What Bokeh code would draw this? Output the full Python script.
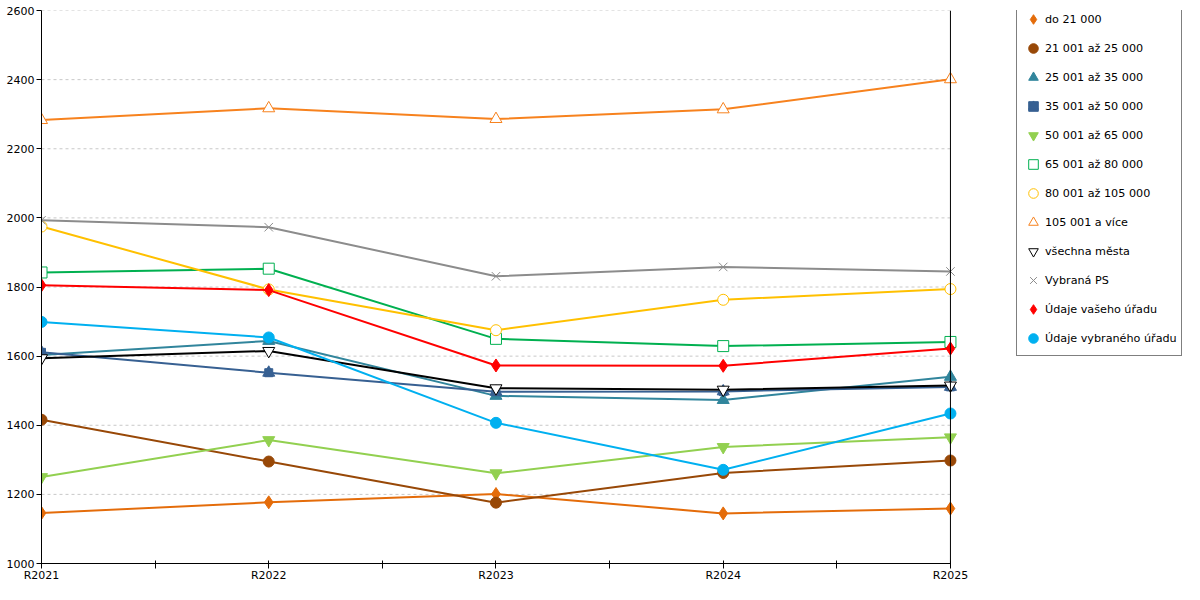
from bokeh.plotting import figure
from bokeh.models import Range1d, FixedTicker, Legend, LegendItem, Span
from bokeh.embed import file_html
from bokeh.resources import INLINE

years = ["R2021", "R2022", "R2023", "R2024", "R2025"]
y_ticks = [1000, 1200, 1400, 1600, 1800, 2000, 2200, 2400, 2600]

do_21000 = [1146, 1177, 1201, 1145, 1159]
od_21001 = [1416, 1295, 1176, 1262, 1298]
od_25001 = [1603, 1644, 1485, 1473, 1540]
od_35001 = [1611, 1552, 1497, 1498, 1511]
od_50001 = [1250, 1357, 1261, 1337, 1365]
od_65001 = [1842, 1853, 1650, 1629, 1641]
od_80001 = [1975, 1793, 1675, 1763, 1794]
od_105001 = [2283, 2317, 2286, 2314, 2401]
vsechna_mesta = [1594, 1615, 1507, 1503, 1515]
vybrana_ps = [1993, 1973, 1831, 1858, 1845]
vas_urad = [1805, 1791, 1573, 1572, 1622]
vybrany_urad = [1699, 1654, 1407, 1271, 1434]

xs = list(range(len(years)))

# frame runs on to the right edge so the legend can sit beside the last year
p = figure(
    width=1184, height=584,
    x_range=Range1d(0, 5.03), y_range=Range1d(y_ticks[0], y_ticks[-1]),
    output_backend="svg", toolbar_location=None,
    min_border_left=41, min_border_right=0, min_border_top=10, min_border_bottom=0,
)
p.outline_line_color = None
p.xgrid.visible = False
p.ygrid.visible = False

# dashed horizontal grid that stops at the right-hand axis line
p.segment(x0=xs[0], x1=xs[-1], y0=y_ticks[1:], y1=y_ticks[1:],
          line_color="#c8c8c8", line_width=1, line_dash="3 3")

for ax in (p.xaxis[0], p.yaxis[0]):
    ax.axis_line_color = "black"
    ax.major_tick_line_color = "black"
    ax.minor_tick_line_color = "black"
    ax.major_label_text_font = "DejaVu Sans"
    ax.major_label_text_font_size = "11px"
    ax.major_label_text_color = "black"

p.xaxis.ticker = FixedTicker(ticks=xs, minor_ticks=[x + 0.5 for x in xs[:-1]])
p.xaxis.major_label_overrides = {x: yr for x, yr in zip(xs, years)}
p.xaxis.bounds = (xs[0], xs[-1])
p.xaxis.major_tick_in = 3
p.xaxis.major_tick_out = 5
p.xaxis.minor_tick_in = 3
p.xaxis.minor_tick_out = 5
p.xaxis.major_label_standoff = 0

p.yaxis.ticker = FixedTicker(ticks=y_ticks)
p.yaxis.major_tick_in = 0
p.yaxis.major_tick_out = 5
p.yaxis.major_label_standoff = 2
p.yaxis.minor_tick_line_color = None

p.add_layout(Span(location=xs[-1], dimension="height", line_color="black", line_width=1))

series = [
    ("do 21 000", do_21000, "#E46C0A", "diamond", 13, True),
    ("21 001 až 25 000", od_21001, "#984807", "circle", 11, True),
    ("25 001 až 35 000", od_25001, "#31859C", "triangle", 12, True),
    ("35 001 až 50 000", od_35001, "#376092", "house", 10, True),
    ("50 001 až 65 000", od_50001, "#92D050", "inverted_triangle", 12, True),
    ("65 001 až 80 000", od_65001, "#00B050", "square", 11, False),
    ("80 001 až 105 000", od_80001, "#FFC000", "circle", 11, False),
    ("105 001 a více", od_105001, "#F7821E", "triangle", 12, False),
    ("všechna města", vsechna_mesta, "#000000", "inverted_triangle", 12, False),
    ("Vybraná PS", vybrana_ps, "#8C8C8C", "x", 12, False),
    ("Údaje vašeho úřadu", vas_urad, "#FF0000", "diamond", 13, True),
    ("Údaje vybraného úřadu", vybrany_urad, "#00B0F0", "circle", 11, True),
]

items = []
for label, vals, color, marker, size, filled in series:
    p.line(xs, vals, line_color=color, line_width=2)
    fill = color if filled else "white"
    if marker == "house":
        # square body with a triangular roof
        r1 = p.scatter(xs, vals, marker="square", size=8, fill_color=color, line_color=color)
        r2 = p.scatter(xs, vals, marker="triangle", size=12, fill_color=color, line_color=color)
        rends = [r1, r2]
    elif marker == "x":
        rends = [p.scatter(xs, vals, marker="x", size=size, line_color=color, line_width=1)]
    else:
        rends = [p.scatter(xs, vals, marker=marker, size=size, fill_color=fill,
                           line_color=color, line_width=1)]
    items.append(LegendItem(label=label, renderers=rends))

legend = Legend(
    items=items, location=(975, 207), margin=0,
    border_line_color="black", border_line_width=1,
    background_fill_color="white", background_fill_alpha=1,
    label_text_font="DejaVu Sans", label_text_font_size="11.2px", label_text_color="black",
    glyph_width=24, glyph_height=26, label_height=26, spacing=3,
    padding=4, label_standoff=0,
)
p.add_layout(legend)

open("out.html", "w").write(file_html(p, INLINE))
